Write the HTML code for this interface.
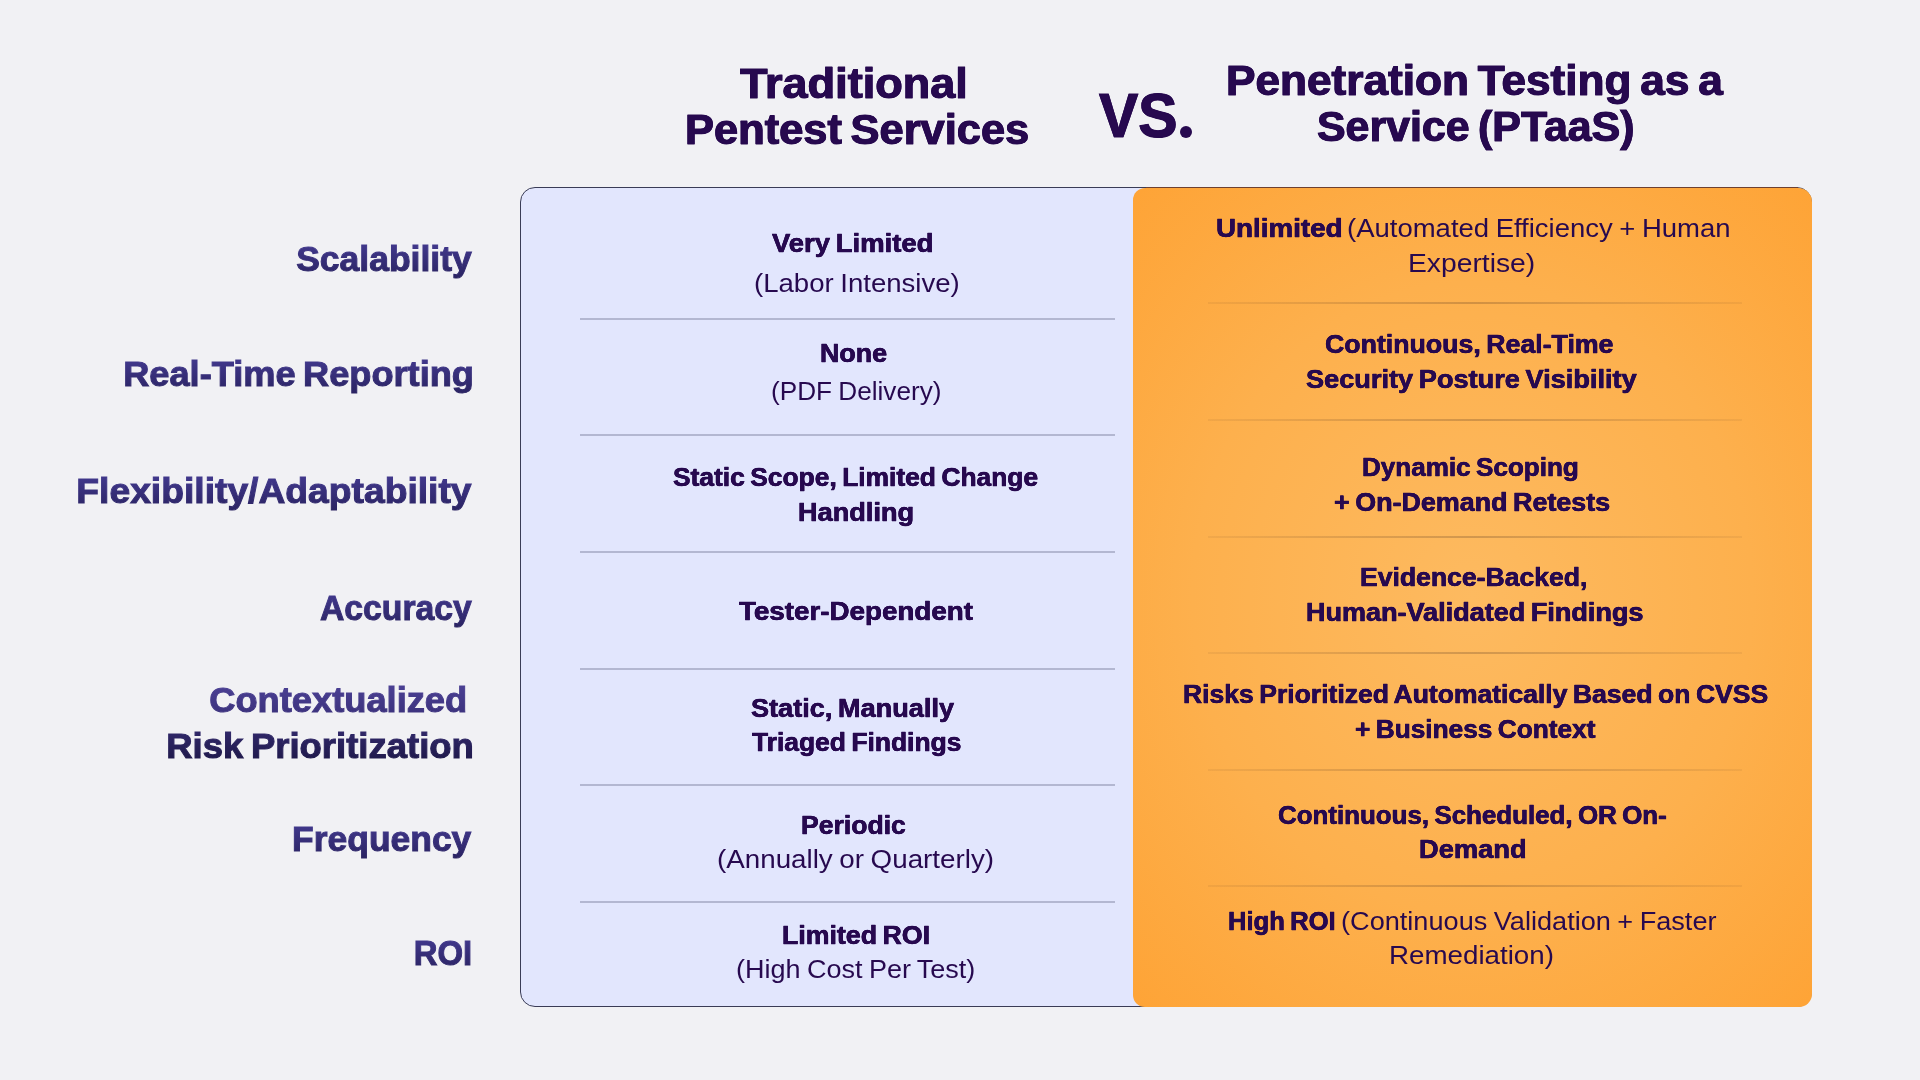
<!DOCTYPE html>
<html lang="en">
<head>
<meta charset="utf-8">
<title>Traditional Pentest Services vs. Penetration Testing as a Service (PTaaS)</title>
<style>
  html,body{margin:0;padding:0;}
  body{width:1920px;height:1080px;overflow:hidden;background:#f1f1f4;font-family:"Liberation Sans",sans-serif;}
  #page{position:relative;width:1920px;height:1080px;background:#f1f1f4;overflow:hidden;}
  .ln{position:absolute;display:block;white-space:nowrap;line-height:1;color:#27094f;transform-origin:0 0;margin:0;padding:0;}
  .b{font-weight:bold;}
  .r{font-weight:normal;}
  .g{color:transparent;-webkit-background-clip:text;background-clip:text;}
  .box{position:absolute;left:520px;top:187px;width:1292px;height:820px;box-sizing:border-box;border:1px solid #3a3c56;border-radius:15px;background:#e2e6fd;}
  .orange{position:absolute;left:1133px;top:188px;width:679px;height:819px;border-radius:12px 14px 13px 12px;background:radial-gradient(ellipse 75% 70% at 50% 50%,#fdba60 0%,#fdb04d 55%,#fea335 100%);}
  .dl{position:absolute;left:580px;width:535px;height:2px;background:#b3b7d1;}
  .dr{position:absolute;left:1208px;width:534px;height:2px;background:linear-gradient(90deg,rgba(45,25,20,.06) 0%,rgba(45,25,20,.14) 25%,rgba(45,25,20,.21) 50%,rgba(45,25,20,.14) 75%,rgba(45,25,20,.06) 100%);}
  .dot{position:absolute;left:1180.2px;top:125.8px;width:12.2px;height:12.2px;border-radius:50%;background:#27094f;}
  .topedge{position:absolute;left:1146px;top:187px;width:652px;height:1px;background:#6e402f;}

</style>
</head>
<body>
<div id="page">
  <header>
    <span class="ln b" style="left:740.19px;top:63.35px;font-size:42px;word-spacing:-0.08em;-webkit-text-stroke:0.9px #27094f;text-shadow:0.5px 0 0 #27094f,-0.5px 0 0 #27094f;transform:scaleX(1.0727);">Traditional</span>
    <span class="ln b" style="left:684.69px;top:109.15px;font-size:42px;word-spacing:-0.08em;-webkit-text-stroke:0.9px #27094f;text-shadow:0.5px 0 0 #27094f,-0.5px 0 0 #27094f;transform:scaleX(1.0343);">Pentest Services</span>
    <span class="ln b" style="left:1099.23px;top:83.79px;font-size:62.5px;-webkit-text-stroke:1.1px #27094f;text-shadow:0.6px 0 0 #27094f,-0.6px 0 0 #27094f;transform:scaleX(0.9418);">VS<span style="font-size:0">.</span></span>
    <span class="ln b" style="left:1226.05px;top:60.25px;font-size:42px;word-spacing:-0.08em;-webkit-text-stroke:0.9px #27094f;text-shadow:0.5px 0 0 #27094f,-0.5px 0 0 #27094f;transform:scaleX(1.0518);">Penetration Testing as a</span>
    <span class="ln b" style="left:1316.59px;top:106.05px;font-size:42px;word-spacing:-0.08em;-webkit-text-stroke:0.9px #27094f;text-shadow:0.5px 0 0 #27094f,-0.5px 0 0 #27094f;transform:scaleX(1.0208);">Service (PTaaS)</span>
    <span class="dot" aria-hidden="true"></span>
  </header>
  <aside>
    <span class="ln b g" style="left:292.02px;top:233.58px;font-size:34.4px;word-spacing:-0.07em;-webkit-text-stroke:1.0px transparent;line-height:1.5;padding:0 4px;transform:scaleX(1.0320);background-image:linear-gradient(180deg,#40378a 23.8%,#292260 88.4%);">Scalability</span>
    <span class="ln b g" style="left:119.19px;top:349.28px;font-size:34.4px;word-spacing:-0.07em;-webkit-text-stroke:1.0px transparent;line-height:1.5;padding:0 4px;transform:scaleX(1.0523);background-image:linear-gradient(180deg,#40378a 23.8%,#292260 88.4%);">Real-Time Reporting</span>
    <span class="ln b g" style="left:72.01px;top:466.08px;font-size:34.4px;word-spacing:-0.07em;-webkit-text-stroke:1.0px transparent;line-height:1.5;padding:0 4px;transform:scaleX(1.0829);background-image:linear-gradient(180deg,#40378a 23.8%,#292260 88.4%);">Flexibility/Adaptability</span>
    <span class="ln b g" style="left:315.70px;top:583.38px;font-size:34.4px;word-spacing:-0.07em;-webkit-text-stroke:1.0px transparent;line-height:1.5;padding:0 4px;transform:scaleX(0.9808);background-image:linear-gradient(180deg,#40378a 23.8%,#292260 88.4%);">Accuracy</span>
    <span class="ln b g" style="left:204.86px;top:675.38px;font-size:34.4px;word-spacing:-0.07em;-webkit-text-stroke:1.0px transparent;line-height:1.5;padding:0 4px;transform:scaleX(1.0547);background-image:linear-gradient(180deg,#4a3f92 23.8%,#392f78 88.4%);">Contextualized</span>
    <span class="ln b g" style="left:161.54px;top:720.78px;font-size:34.4px;word-spacing:-0.07em;-webkit-text-stroke:1.0px transparent;line-height:1.5;padding:0 4px;transform:scaleX(1.0608);background-image:linear-gradient(180deg,#2f2767 23.8%,#1c1645 88.4%);">Risk Prioritization</span>
    <span class="ln b g" style="left:288.22px;top:814.08px;font-size:34.4px;word-spacing:-0.07em;-webkit-text-stroke:1.0px transparent;line-height:1.5;padding:0 4px;transform:scaleX(1.0304);background-image:linear-gradient(180deg,#40378a 23.8%,#292260 88.4%);">Frequency</span>
    <span class="ln b g" style="left:410.25px;top:927.68px;font-size:34.4px;word-spacing:-0.07em;-webkit-text-stroke:1.0px transparent;line-height:1.5;padding:0 4px;transform:scaleX(0.9556);background-image:linear-gradient(180deg,#40378a 23.8%,#292260 88.4%);">ROI</span>
  </aside>
  <div class="box"></div>
  <div class="orange"></div>
  <i class="topedge"></i>
  <section>
    <i class="dl" style="top:318px"></i>
    <i class="dl" style="top:434px"></i>
    <i class="dl" style="top:551px"></i>
    <i class="dl" style="top:668px"></i>
    <i class="dl" style="top:784px"></i>
    <i class="dl" style="top:901px"></i>
    <span class="ln b" style="left:771.88px;top:229.92px;font-size:26.2px;word-spacing:-0.07em;-webkit-text-stroke:0.4px #27094f;text-shadow:0.3px 0 0 #27094f,-0.3px 0 0 #27094f;transform:scaleX(1.0491);">Very Limited</span>
    <span class="ln r" style="left:753.93px;top:269.52px;font-size:26.2px;word-spacing:-0.04em;transform:scaleX(1.0527);">(Labor Intensive)</span>
    <span class="ln b" style="left:819.68px;top:339.52px;font-size:26.2px;word-spacing:-0.07em;-webkit-text-stroke:0.4px #27094f;text-shadow:0.3px 0 0 #27094f,-0.3px 0 0 #27094f;transform:scaleX(1.0242);">None</span>
    <span class="ln r" style="left:770.82px;top:378.42px;font-size:26.2px;word-spacing:-0.04em;transform:scaleX(0.9988);">(PDF Delivery)</span>
    <span class="ln b" style="left:673.26px;top:463.62px;font-size:26.2px;word-spacing:-0.07em;-webkit-text-stroke:0.4px #27094f;text-shadow:0.3px 0 0 #27094f,-0.3px 0 0 #27094f;transform:scaleX(1.0067);">Static Scope, Limited Change</span>
    <span class="ln b" style="left:798.36px;top:498.52px;font-size:26.2px;word-spacing:-0.07em;-webkit-text-stroke:0.4px #27094f;text-shadow:0.3px 0 0 #27094f,-0.3px 0 0 #27094f;transform:scaleX(1.0364);">Handling</span>
    <span class="ln b" style="left:739.15px;top:598.42px;font-size:26.2px;word-spacing:-0.07em;-webkit-text-stroke:0.4px #27094f;text-shadow:0.3px 0 0 #27094f,-0.3px 0 0 #27094f;transform:scaleX(1.0602);">Tester-Dependent</span>
    <span class="ln b" style="left:751.35px;top:694.82px;font-size:26.2px;word-spacing:-0.07em;-webkit-text-stroke:0.4px #27094f;text-shadow:0.3px 0 0 #27094f,-0.3px 0 0 #27094f;transform:scaleX(1.0354);">Static, Manually</span>
    <span class="ln b" style="left:751.94px;top:728.52px;font-size:26.2px;word-spacing:-0.07em;-webkit-text-stroke:0.4px #27094f;text-shadow:0.3px 0 0 #27094f,-0.3px 0 0 #27094f;transform:scaleX(1.0083);">Triaged Findings</span>
    <span class="ln b" style="left:800.99px;top:811.62px;font-size:26.2px;word-spacing:-0.07em;-webkit-text-stroke:0.4px #27094f;text-shadow:0.3px 0 0 #27094f,-0.3px 0 0 #27094f;transform:scaleX(1.0144);">Periodic</span>
    <span class="ln r" style="left:717.22px;top:845.52px;font-size:26.2px;word-spacing:-0.04em;transform:scaleX(1.0601);">(Annually or Quarterly)</span>
    <span class="ln b" style="left:781.88px;top:921.52px;font-size:26.2px;word-spacing:-0.07em;-webkit-text-stroke:0.4px #27094f;text-shadow:0.3px 0 0 #27094f,-0.3px 0 0 #27094f;transform:scaleX(1.0203);">Limited ROI</span>
    <span class="ln r" style="left:736.27px;top:956.42px;font-size:26.2px;word-spacing:-0.04em;transform:scaleX(1.0311);">(High Cost Per Test)</span>
  </section>
  <section>
    <i class="dr" style="top:302px"></i>
    <i class="dr" style="top:419px"></i>
    <i class="dr" style="top:536px"></i>
    <i class="dr" style="top:652px"></i>
    <i class="dr" style="top:769px"></i>
    <i class="dr" style="top:885px"></i>
    <span class="ln b" style="left:1215.50px;top:214.52px;font-size:26.2px;word-spacing:-0.07em;-webkit-text-stroke:0.4px #27094f;text-shadow:0.3px 0 0 #27094f,-0.3px 0 0 #27094f;transform:scaleX(1.0607);">Unlimited</span>
    <span class="ln r" style="left:1346.54px;top:214.52px;font-size:26.2px;word-spacing:-0.04em;transform:scaleX(1.0497);">(Automated Efficiency + Human</span>
    <span class="ln r" style="left:1408.38px;top:250.12px;font-size:26.2px;word-spacing:-0.04em;transform:scaleX(1.0792);">Expertise)</span>
    <span class="ln b" style="left:1325.30px;top:330.52px;font-size:26.2px;word-spacing:-0.07em;-webkit-text-stroke:0.4px #27094f;text-shadow:0.3px 0 0 #27094f,-0.3px 0 0 #27094f;transform:scaleX(1.0198);">Continuous, Real-Time</span>
    <span class="ln b" style="left:1306.25px;top:365.52px;font-size:26.2px;word-spacing:-0.07em;-webkit-text-stroke:0.4px #27094f;text-shadow:0.3px 0 0 #27094f,-0.3px 0 0 #27094f;transform:scaleX(1.0368);">Security Posture Visibility</span>
    <span class="ln b" style="left:1362.02px;top:453.82px;font-size:26.2px;word-spacing:-0.07em;-webkit-text-stroke:0.4px #27094f;text-shadow:0.3px 0 0 #27094f,-0.3px 0 0 #27094f;transform:scaleX(0.9949);">Dynamic Scoping</span>
    <span class="ln b" style="left:1334.31px;top:488.52px;font-size:26.2px;word-spacing:-0.07em;-webkit-text-stroke:0.4px #27094f;text-shadow:0.3px 0 0 #27094f,-0.3px 0 0 #27094f;transform:scaleX(1.0257);">+ On-Demand Retests</span>
    <span class="ln b" style="left:1359.69px;top:563.82px;font-size:26.2px;word-spacing:-0.07em;-webkit-text-stroke:0.4px #27094f;text-shadow:0.3px 0 0 #27094f,-0.3px 0 0 #27094f;transform:scaleX(1.0145);">Evidence-Backed,</span>
    <span class="ln b" style="left:1306.37px;top:598.52px;font-size:26.2px;word-spacing:-0.07em;-webkit-text-stroke:0.4px #27094f;text-shadow:0.3px 0 0 #27094f,-0.3px 0 0 #27094f;transform:scaleX(1.0319);">Human-Validated Findings</span>
    <span class="ln b" style="left:1182.69px;top:680.52px;font-size:26.2px;word-spacing:-0.07em;-webkit-text-stroke:0.4px #27094f;text-shadow:0.3px 0 0 #27094f,-0.3px 0 0 #27094f;transform:scaleX(1.0128);">Risks Prioritized Automatically Based on CVSS</span>
    <span class="ln b" style="left:1355.03px;top:715.52px;font-size:26.2px;word-spacing:-0.07em;-webkit-text-stroke:0.4px #27094f;text-shadow:0.3px 0 0 #27094f,-0.3px 0 0 #27094f;transform:scaleX(1.0013);">+ Business Context</span>
    <span class="ln b" style="left:1277.62px;top:802.12px;font-size:26.2px;word-spacing:-0.07em;-webkit-text-stroke:0.4px #27094f;text-shadow:0.3px 0 0 #27094f,-0.3px 0 0 #27094f;transform:scaleX(0.9889);">Continuous, Scheduled, OR On-</span>
    <span class="ln b" style="left:1418.66px;top:835.52px;font-size:26.2px;word-spacing:-0.07em;-webkit-text-stroke:0.4px #27094f;text-shadow:0.3px 0 0 #27094f,-0.3px 0 0 #27094f;transform:scaleX(1.0422);">Demand</span>
    <span class="ln b" style="left:1227.74px;top:907.82px;font-size:26.2px;word-spacing:-0.07em;-webkit-text-stroke:0.4px #27094f;text-shadow:0.3px 0 0 #27094f,-0.3px 0 0 #27094f;transform:scaleX(0.9769);">High ROI</span>
    <span class="ln r" style="left:1340.56px;top:907.82px;font-size:26.2px;word-spacing:-0.04em;transform:scaleX(1.0360);">(Continuous Validation + Faster</span>
    <span class="ln r" style="left:1389.42px;top:942.12px;font-size:26.2px;word-spacing:-0.04em;transform:scaleX(1.0591);">Remediation)</span>
  </section>
</div>
</body>
</html>
